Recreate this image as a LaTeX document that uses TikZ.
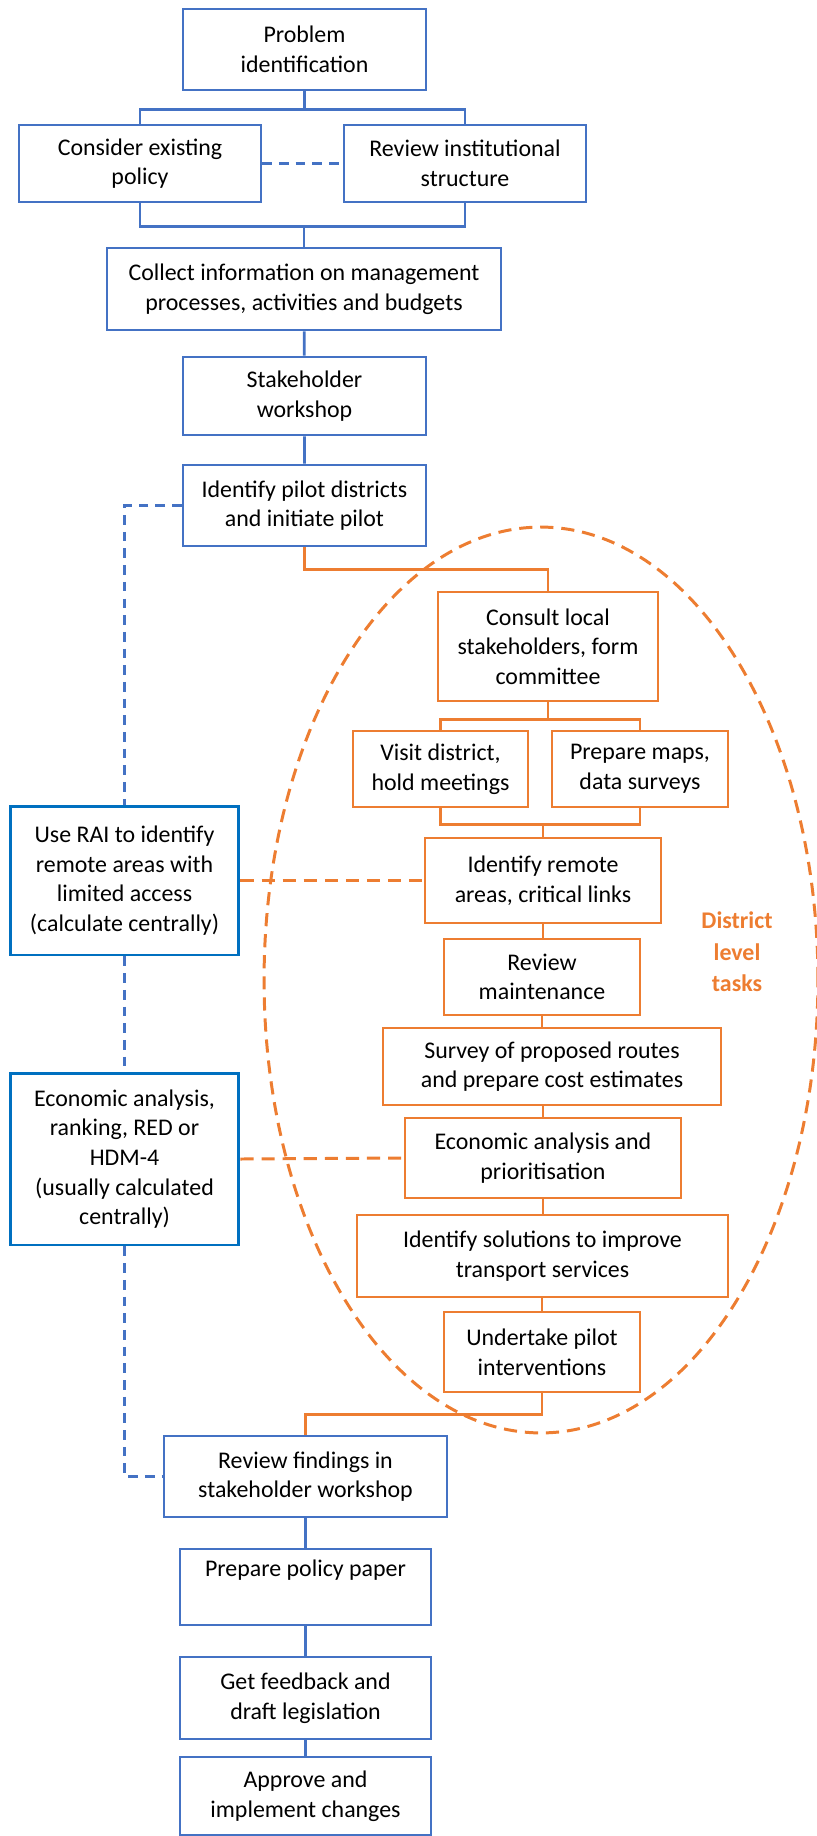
\documentclass[tikz,border=0pt]{standalone}
\usepackage{fontspec}
\setmainfont{Carlito}
\definecolor{boxblue}{HTML}{4472C4}
\definecolor{sideblue}{HTML}{0070C0}
\definecolor{taskorange}{HTML}{ED7D31}
\begin{document}
\begin{tikzpicture}[x=0.02cm, y=-0.02cm, line width=1.5pt,
    box/.style={draw, fill=white, align=center, inner sep=0pt, font=\fontsize{13.6}{16.9}\selectfont},
    bluebox/.style={box, draw=boxblue},
    sidebox/.style={box, draw=sideblue, line width=1.7pt},
    orangebox/.style={box, draw=taskorange},
    bluedash/.style={boxblue, dash pattern=on 5.5pt off 4pt},
    orangedash/.style={taskorange, line width=1.7pt, dash pattern=on 7.5pt off 4.5pt}]
        \useasboundingbox (0,0) rectangle (817,1836);
        \coordinate (dist) at (541,980);
        \draw[orangedash] (dist) ellipse [x radius=5.54cm, y radius=9.06cm];
        \node[bluebox, minimum width=4.86cm, minimum height=1.62cm] (prob) at (304.5,49.5) {Problem\\identification};
        \node[bluebox, minimum width=4.84cm, minimum height=1.54cm] (cons) at (140,163.5) {Consider existing\\policy};
        \node[bluebox, minimum width=4.84cm, minimum height=1.54cm] (rev) at (465,163.5) {Review institutional\\structure};
        \node[bluebox, minimum width=7.88cm, minimum height=1.64cm] (coll) at (304,289) {Collect information on management\\processes, activities and budgets};
        \node[bluebox, minimum width=4.86cm, minimum height=1.56cm] (stake) at (304.5,396) {Stakeholder\\workshop};
        \node[bluebox, minimum width=4.86cm, minimum height=1.62cm] (pilot) at (304.5,505.5) {Identify pilot districts\\and initiate pilot};
        \node[orangebox, minimum width=4.40cm, minimum height=2.18cm] (consult) at (548,646.5) {Consult local\\stakeholders, form\\committee};
        \node[orangebox, minimum width=3.50cm, minimum height=1.52cm] (visit) at (440.5,769) {Visit district,\\hold meetings};
        \node[orangebox, minimum width=3.52cm, minimum height=1.52cm] (maps) at (640,769) {Prepare maps,\\data surveys};
        \node[orangebox, minimum width=4.72cm, minimum height=1.70cm] (remote) at (543,880.5) {Identify remote\\areas, critical links};
        \node[orangebox, minimum width=3.92cm, minimum height=1.52cm] (maint) at (542,977) {Review\\maintenance};
        \node[orangebox, minimum width=6.76cm, minimum height=1.54cm] (survey) at (552,1066.5) {Survey of proposed routes\\and prepare cost estimates};
        \node[orangebox, minimum width=5.52cm, minimum height=1.60cm] (econ) at (543,1158) {Economic analysis and\\prioritisation};
        \node[orangebox, minimum width=7.42cm, minimum height=1.64cm] (solut) at (542.5,1256) {Identify solutions to improve\\transport services};
        \node[orangebox, minimum width=3.92cm, minimum height=1.60cm] (pilotint) at (542,1352) {Undertake pilot\\interventions};
        \node[bluebox, minimum width=5.66cm, minimum height=1.62cm] (findings) at (305.5,1476.5) {Review findings in\\stakeholder workshop};
        \node[bluebox, minimum width=5.02cm, minimum height=1.52cm] (paper) at (305.5,1587) {Prepare policy paper\\\strut};
        \node[bluebox, minimum width=5.02cm, minimum height=1.64cm] (feedback) at (305.5,1698) {Get feedback and\\draft legislation};
        \node[bluebox, minimum width=5.02cm, minimum height=1.56cm] (approve) at (305.5,1796) {Approve and\\implement changes};
        \node[sidebox, minimum width=4.58cm, minimum height=2.98cm] (rai) at (124.5,880.5) {Use RAI to identify\\remote areas with\\limited access\\(calculate centrally)};
        \node[sidebox, minimum width=4.58cm, minimum height=3.44cm] (econside) at (124.5,1159) {Economic analysis,\\ranking, RED or\\HDM-4\\(usually calculated\\centrally)};
        \node[font=\fontsize{13.6}{18}\selectfont\bfseries, text=taskorange, align=center] (dlt) at (737,952) {District\\level\\tasks};
        \draw[boxblue] (prob.south) -- ++(0,18) -| (cons.north);
        \draw[boxblue] (prob.south) -- ++(0,18) -| (rev.north);
        \draw[bluedash] (cons.east) -- (rev.west);
        \draw[boxblue] (cons.south) -- ++(0,23) -| (coll.north);
        \draw[boxblue] (rev.south) -- ++(0,23) -| (coll.north);
        \draw[boxblue] (coll) -- (stake) (stake) -- (pilot);
        \draw[taskorange] (pilot.south) -- ++(0,22) -| (consult.north);
        \draw[taskorange] (consult.south) -- ++(0,17) -| (visit.north);
        \draw[taskorange] (consult.south) -- ++(0,17) -| (maps.north);
        \draw[taskorange] (visit.south) -- ++(0,16) -| (remote.north);
        \draw[taskorange] (maps.south) -- ++(0,16) -| (remote.north);
        \draw[taskorange] (remote.south) -- (remote.south |- maint.north);
        \draw[taskorange] (maint.south) -- (maint.south |- survey.north);
        \draw[taskorange] (survey.south -| econ.north) -- (econ.north);
        \draw[taskorange] (econ.south) -- (econ.south |- solut.north);
        \draw[taskorange] (solut.south -| pilotint.north) -- (pilotint.north);
        \draw[taskorange] (pilotint.south) -- ++(0,21) -| (findings.north);
        \draw[boxblue] (findings) -- (paper) (paper) -- (feedback) (feedback) -- (approve);
        \draw[bluedash] (pilot.west) -| (rai.north);
        \draw[bluedash] (rai.south) -- (econside.north);
        \draw[bluedash] (econside.south) |- (findings.west);
        \draw[orangedash] (rai.east) -- (remote.west);
        \draw[orangedash] (econside.east) -- (econ.west);
    \end{tikzpicture}
\end{document}
